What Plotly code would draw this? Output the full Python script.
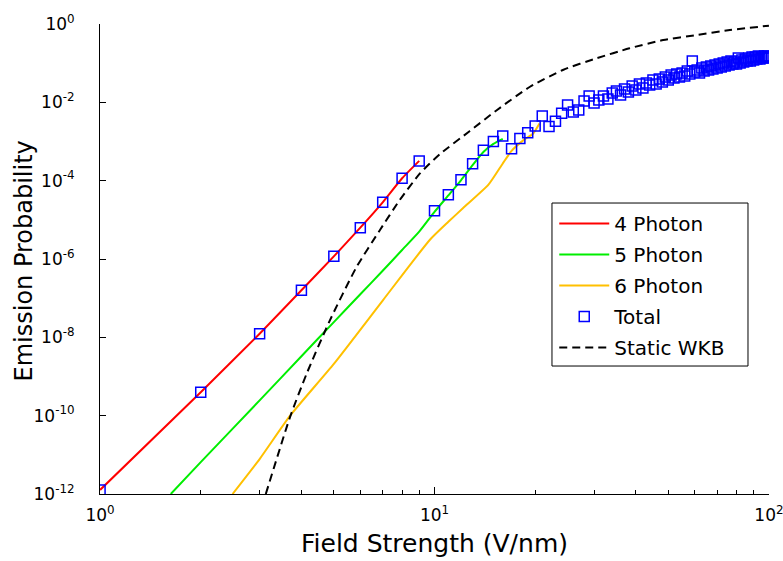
import plotly.graph_objects as go

# Field strength (V/nm) and emission probability for each channel
field_4ph = [1, 2, 3, 4, 5, 6, 7, 8, 9]
prob_4ph = [1.27e-12, 3.96e-10, 1.24e-8, 1.59e-7, 1.17e-6, 6.3e-6, 2.8e-5, 1.15e-4, 3.2e-4]

field_5ph = [1.627, 2, 3, 4, 5, 6, 7, 8, 9, 10, 11, 12, 13, 14, 15, 16]
prob_5ph = [1e-12, 6.5e-12, 2.45e-10, 3.3e-9, 2.45e-8, 1.26e-7, 5.0e-7, 1.7e-6, 5.0e-6,
            1.6e-5, 4.2e-5, 1.02e-4, 2.5e-4, 5.4e-4, 8.7e-4, 1.17e-3]

field_6ph = [2.49, 3, 3.7, 5, 7, 9.69, 11, 12.18, 14.5, 16.0, 17.0, 18.5, 19.7, 20.6]
prob_6ph = [1e-12, 7.8e-12, 1.0e-10, 2.1e-9, 8.7e-8, 3.1e-6, 8.9e-6, 2.0e-5, 7.9e-5,
            2.75e-4, 5.75e-4, 1.1e-3, 1.58e-3, 2.9e-3]

field_total = list(range(1, 101))
prob_total = [
    1.27e-12, 3.96e-10, 1.24e-8, 1.59e-7, 1.17e-6, 6.3e-6, 2.8e-5, 1.15e-4, 3.2e-4, 1.7e-5,
    4.4e-5, 1.06e-4, 2.7e-4, 6.0e-4, 1.0e-3, 1.38e-3, 6.5e-4, 1.2e-3, 1.67e-3, 2.5e-3,
    4.5e-3, 2.4e-3, 3.3e-3, 5.3e-3, 8.5e-3, 5.7e-3, 6.4e-3, 1.08e-2, 1.45e-2, 9.6e-3,
    1.15e-2, 1.45e-2, 1.22e-2, 1.73e-2, 1.95e-2, 1.54e-2, 2.19e-2, 1.84e-2, 2.61e-2, 2.07e-2,
    2.94e-2, 2.32e-2, 3.12e-2, 2.77e-2, 3.72e-2, 2.94e-2, 3.94e-2, 3.31e-2, 4.43e-2, 3.72e-2,
    4.99e-2, 4.18e-2, 5.29e-2, 4.43e-2, 5.61e-2, 4.70e-2, 6.31e-2, 5.29e-2, 0.114, 5.95e-2,
    6.70e-2, 5.61e-2, 7.53e-2, 6.31e-2, 7.98e-2, 6.70e-2, 8.47e-2, 7.10e-2, 8.98e-2, 7.53e-2,
    9.52e-2, 7.98e-2, 0.101, 8.47e-2, 0.107, 8.98e-2, 0.114, 9.52e-2, 0.107, 9.52e-2,
    0.136, 0.101, 0.120, 0.107, 0.128, 0.114, 0.136, 0.114, 0.144, 0.120,
    0.144, 0.128, 0.153, 0.128, 0.144, 0.136, 0.153, 0.136, 0.153, 0.144,
]

field_wkb = [3.13, 3.70, 4.15, 4.87, 5.85, 6.87, 7.87, 9.06, 10.39, 12.7, 15.35, 19.3,
             24.3, 30.5, 38.3, 48.3, 60.7, 76.4, 100]
prob_wkb = [1e-12, 9.3e-11, 1.2e-9, 2.75e-8, 6.3e-7, 5.5e-6, 3.2e-5, 1.55e-4, 4.8e-4,
            1.8e-3, 6.3e-3, 2.5e-2, 6.8e-2, 0.133, 0.24, 0.39, 0.52, 0.70, 0.905]

y_tick_vals = [1e-12, 1e-10, 1e-8, 1e-6, 1e-4, 1e-2, 1]
y_tick_text = ["10<sup>-12</sup>", "10<sup>-10</sup>", "10<sup>-8</sup>", "10<sup>-6</sup>",
               "10<sup>-4</sup>", "10<sup>-2</sup>", "10<sup>0</sup>"]
x_tick_vals = [1, 10, 100]
x_tick_text = ["10<sup>0</sup>", "10<sup>1</sup>", "10<sup>2</sup>"]
x_minor_vals = [2, 3, 4, 5, 6, 7, 8, 9, 20, 30, 40, 50, 60, 70, 80, 90]

FONT = "DejaVu Sans"

fig = go.Figure()
fig.add_trace(go.Scatter(x=field_4ph, y=prob_4ph, mode="lines", name="4 Photon",
                         legendgroup="a",
                         line=dict(color="#ff0000", width=2, shape="spline", smoothing=0.5)))
fig.add_trace(go.Scatter(x=field_5ph, y=prob_5ph, mode="lines", name="5 Photon",
                         legendgroup="b",
                         line=dict(color="#00ee00", width=2, shape="spline", smoothing=0.5)))
fig.add_trace(go.Scatter(x=field_6ph, y=prob_6ph, mode="lines", name="6 Photon",
                         legendgroup="c",
                         line=dict(color="#ffc000", width=2, shape="spline", smoothing=0.5)))
fig.add_trace(go.Scatter(x=field_total, y=prob_total, mode="markers", name="Total",
                         legendgroup="d",
                         marker=dict(symbol="square-open", size=10, color="#0000ff",
                                     line=dict(width=1.5, color="#0000ff"))))
fig.add_trace(go.Scatter(x=field_wkb, y=prob_wkb, mode="lines", name="Static WKB",
                         legendgroup="e",
                         line=dict(color="black", width=2, dash="8px,5px", shape="spline",
                                   smoothing=0.6)))

fig.update_layout(
    width=783, height=561,
    margin=dict(l=100, r=14, t=24, b=67, autoexpand=False),
    paper_bgcolor="white", plot_bgcolor="white",
    font=dict(family=FONT, color="black"),
    showlegend=True,
    legend=dict(x=0.679, y=0.617, xanchor="left", yanchor="top",
                bgcolor="rgba(0,0,0,0)", borderwidth=0,
                font=dict(family=FONT, size=20, color="black"),
                tracegroupgap=2, itemwidth=50),
    # legend frame
    shapes=[dict(type="rect", xref="paper", yref="paper",
                 x0=0.6756, x1=0.9686, y0=0.2723, y1=0.6191,
                 line=dict(color="black", width=1), fillcolor="white", layer="above")],
    annotations=[dict(text="Emission Probability", xref="paper", yref="paper",
                      x=-0.1136, y=0.4947, textangle=-90, showarrow=False,
                      xanchor="center", yanchor="middle",
                      font=dict(family=FONT, size=24, color="black"))],
    xaxis=dict(type="log", range=[-0.0002, 2.0002], showline=True, linecolor="black",
               linewidth=1, showgrid=False, zeroline=False, mirror=False,
               automargin=False,
               tickmode="array", tickvals=x_tick_vals, ticktext=x_tick_text,
               ticks="inside", ticklen=7, tickcolor="black", ticklabelstandoff=6,
               ticklabeloverflow="allow",
               minor=dict(tickmode="array", tickvals=x_minor_vals, ticks="inside",
                          ticklen=4, tickcolor="black", showgrid=False),
               tickfont=dict(family=FONT, size=17),
               title=dict(text="Field Strength (V/nm)", font=dict(family=FONT, size=25),
                          standoff=10)),
    yaxis=dict(type="log", range=[-12, 0], showline=True, linecolor="black", linewidth=1,
               showgrid=False, zeroline=False, mirror=False, automargin=False,
               tickmode="array", tickvals=y_tick_vals, ticktext=y_tick_text,
               ticks="inside", ticklen=6, tickcolor="black",
               ticklabelstandoff=21,
               tickfont=dict(family=FONT, size=17)),
)

fig.write_html("out.html")
